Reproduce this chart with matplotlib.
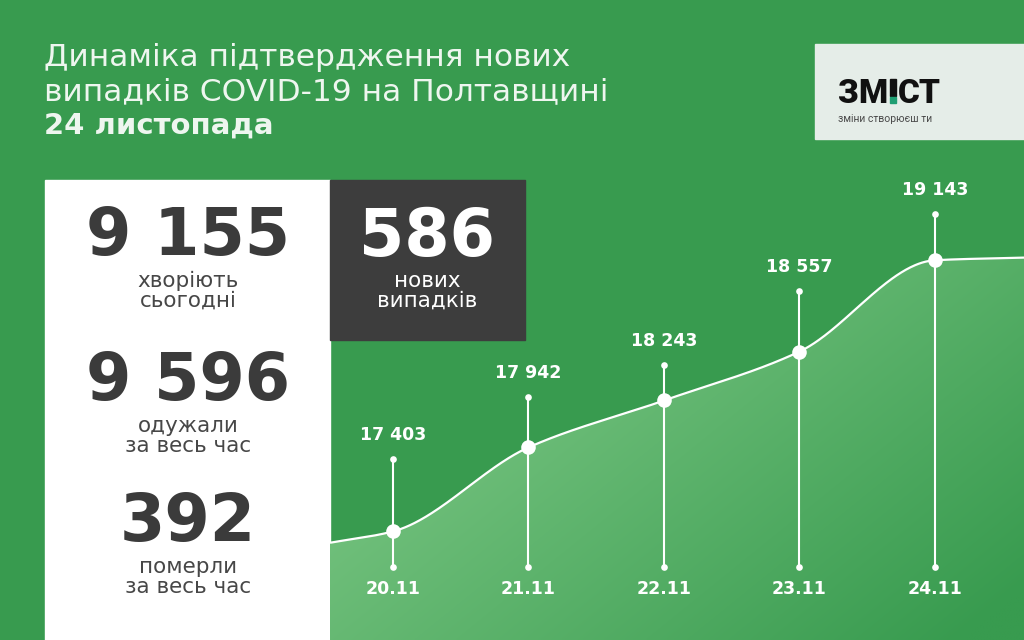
import numpy as np
import matplotlib
matplotlib.use("Agg")
import matplotlib.pyplot as plt
from matplotlib.patches import Rectangle, Polygon

# ---------------- data ----------------
dates = ["20.11", "21.11", "22.11", "23.11", "24.11"]
cases = [17403, 17942, 18243, 18557, 19143]
curve_edge_values = [17330, 19160]   # where the drawn curve enters / leaves the plot
title_lines = ["Динаміка підтвердження нових",
               "випадків COVID-19 на Полтавщині",
               "24 листопада"]
stat_numbers = ["9 155", "9 596", "392"]
stat_labels = ["хворіють\nсьогодні", "одужали\nза весь час", "померли\nза весь час"]
new_cases = "586"
new_cases_label = "нових\nвипадків"
logo_left, logo_right = "ЗМ", "СТ"
logo_tagline = "зміни створюєш ти"

# ---------------- style ----------------
BG = "#389b4f"
LIGHT = np.array([116, 194, 126]) / 255
BGC = np.array([56, 155, 79]) / 255
DARK = "#3d3d3d"
TXT_DARK = "#3b3b3b"
FONT = ["DejaVu Sans"]
LOGO_FONT = ["Roboto", "DejaVu Sans"]
stem_rise_px = [72, 50, 35, 61, 46]

W, H = 1024, 640
fig = plt.figure(figsize=(10.24, 6.4), dpi=100)
fig.patch.set_facecolor(BG)

# background / layout axes in pixel coordinates
bg = fig.add_axes([0, 0, 1, 1])
bg.set_xlim(0, W)
bg.set_ylim(H, 0)
bg.axis("off")
bg.patch.set_alpha(0)

bg.add_patch(Rectangle((45, 180), 285, 460, color="white", zorder=1))
bg.add_patch(Rectangle((330, 180), 195, 160, color=DARK, zorder=1))
bg.add_patch(Rectangle((815, 44), 209, 95, color="#e5ede8", zorder=1))

# title
for i, (line, yy) in enumerate(zip(title_lines, [58, 92, 126])):
    bg.text(44, yy, line, fontsize=21 if i == 2 else 22.5, color="#eef6ef",
            ha="left", va="center", family=FONT,
            weight="bold" if i == 2 else "normal")

# left panel stats
for num, lab, yy in zip(stat_numbers, stat_labels, [237, 382, 523]):
    bg.text(188, yy, num, fontsize=47, weight="bold", color=TXT_DARK,
            ha="center", va="center", family=FONT)
    bg.text(188, yy + 54, lab, fontsize=15.5, color="#474747", ha="center",
            va="center", linespacing=1.0, family=FONT)

# dark box
bg.text(427, 238, new_cases, fontsize=47, weight="bold", color="white",
        ha="center", va="center", family=FONT)
bg.text(427, 291, new_cases_label, fontsize=15.5, color="white", ha="center",
        va="center", linespacing=1.0, family=FONT)

# logo
bg.text(838, 103, logo_left, fontsize=24, weight="black", color="#111111",
        ha="left", va="baseline", family=LOGO_FONT)
bg.text(898, 103, logo_right, fontsize=24, weight="black", color="#111111",
        ha="left", va="baseline", family=LOGO_FONT)
bg.add_patch(Rectangle((889.5, 79), 6, 16.5, color="#111111", zorder=3))
bg.add_patch(Rectangle((889.5, 97), 6, 6, color="#1f9e72", zorder=3))
bg.text(838, 119, logo_tagline, fontsize=7.5, color="#4a4a4a", ha="left",
        va="center", family=LOGO_FONT)

# ---------------- chart axes ----------------
x0px, x1px, y0px, y1px = 330, 1024, 180, 640
ax = fig.add_axes([x0px / W, 0, (x1px - x0px) / W, (y1px - y0px) / H])
ax.patch.set_alpha(0)
ax.axis("off")
xmin, xmax = -0.465, 4.657
ymin, ymax = 16706, 19658
ax.set_xlim(xmin, xmax)
ax.set_ylim(ymin, ymax)
val_per_px = (ymax - ymin) / (y1px - y0px)


def px_to_val(py):
    return ymax - (py - y0px) * val_per_px


def pchip(xk, yk, xs):
    xk = np.asarray(xk, float)
    yk = np.asarray(yk, float)
    h = np.diff(xk)
    d = np.diff(yk) / h
    n = len(xk)
    m = np.zeros(n)
    for k in range(1, n - 1):
        if d[k - 1] * d[k] > 0:
            w1 = 2 * h[k] + h[k - 1]
            w2 = h[k] + 2 * h[k - 1]
            m[k] = (w1 + w2) / (w1 / d[k - 1] + w2 / d[k])
    m[0] = d[0]
    m[-1] = d[-1]
    idx = np.clip(np.searchsorted(xk, xs) - 1, 0, n - 2)
    t = (xs - xk[idx]) / h[idx]
    h00 = 2 * t**3 - 3 * t**2 + 1
    h10 = t**3 - 2 * t**2 + t
    h01 = -2 * t**3 + 3 * t**2
    h11 = t**3 - t**2
    return (h00 * yk[idx] + h10 * h[idx] * m[idx] +
            h01 * yk[idx + 1] + h11 * h[idx] * m[idx + 1])


xi = np.arange(len(dates))
xk = [xmin] + list(xi) + [xmax]
yk = [curve_edge_values[0]] + cases + [curve_edge_values[1]]
xs = np.linspace(xmin, xmax, 600)
ys = pchip(xk, yk, xs)

# gradient fill under curve
nx, ny = 300, 200
xn = np.linspace(0, 1, nx)[None, :]
yn = np.linspace(0, 1, ny)[:, None]
tt = 0.55 * xn + 0.45 * yn
frac = np.clip((tt - 0.3) / (0.95 - 0.3), 0, 1)[..., None]
img = LIGHT * (1 - frac) + BGC * frac
im = ax.imshow(img, extent=(xmin, xmax, ymin, ymax), origin="upper",
               aspect="auto", zorder=1, interpolation="bilinear")
verts = np.column_stack([np.r_[xs, xmax, xmin], np.r_[ys, ymin, ymin]])
clip = Polygon(verts, closed=True, facecolor="none", edgecolor="none",
               transform=ax.transData)
ax.add_patch(clip)
im.set_clip_path(clip)

ax.plot(xs, ys, color="white", lw=1.6, zorder=3, solid_capstyle="butt")

# stems, dots, labels
bottom_val = px_to_val(567)
date_val = px_to_val(589)
tops = [v + r * val_per_px for v, r in zip(cases, stem_rise_px)]
ax.vlines(xi, bottom_val, tops, color="white", lw=1.5, zorder=2)
ax.plot(xi, tops, "o", ms=4.8, color="white", mec="none", zorder=4)
ax.plot(xi, [bottom_val] * len(xi), "o", ms=4.8, color="white", mec="none", zorder=4)
ax.plot(xi, cases, "o", ms=10.5, color="white", mec="none", zorder=5)

for x, v, t in zip(xi, cases, tops):
    lab = f"{v:,}".replace(",", " ")
    ax.text(x, t + 24 * val_per_px, lab, fontsize=12.5, weight="bold",
            color="white", ha="center", va="center", family=FONT)
for x, d in zip(xi, dates):
    ax.text(x, date_val, d, fontsize=12.5, weight="bold", color="white",
            ha="center", va="center", family=FONT)

fig.savefig("out.png", dpi=100, facecolor=BG)
